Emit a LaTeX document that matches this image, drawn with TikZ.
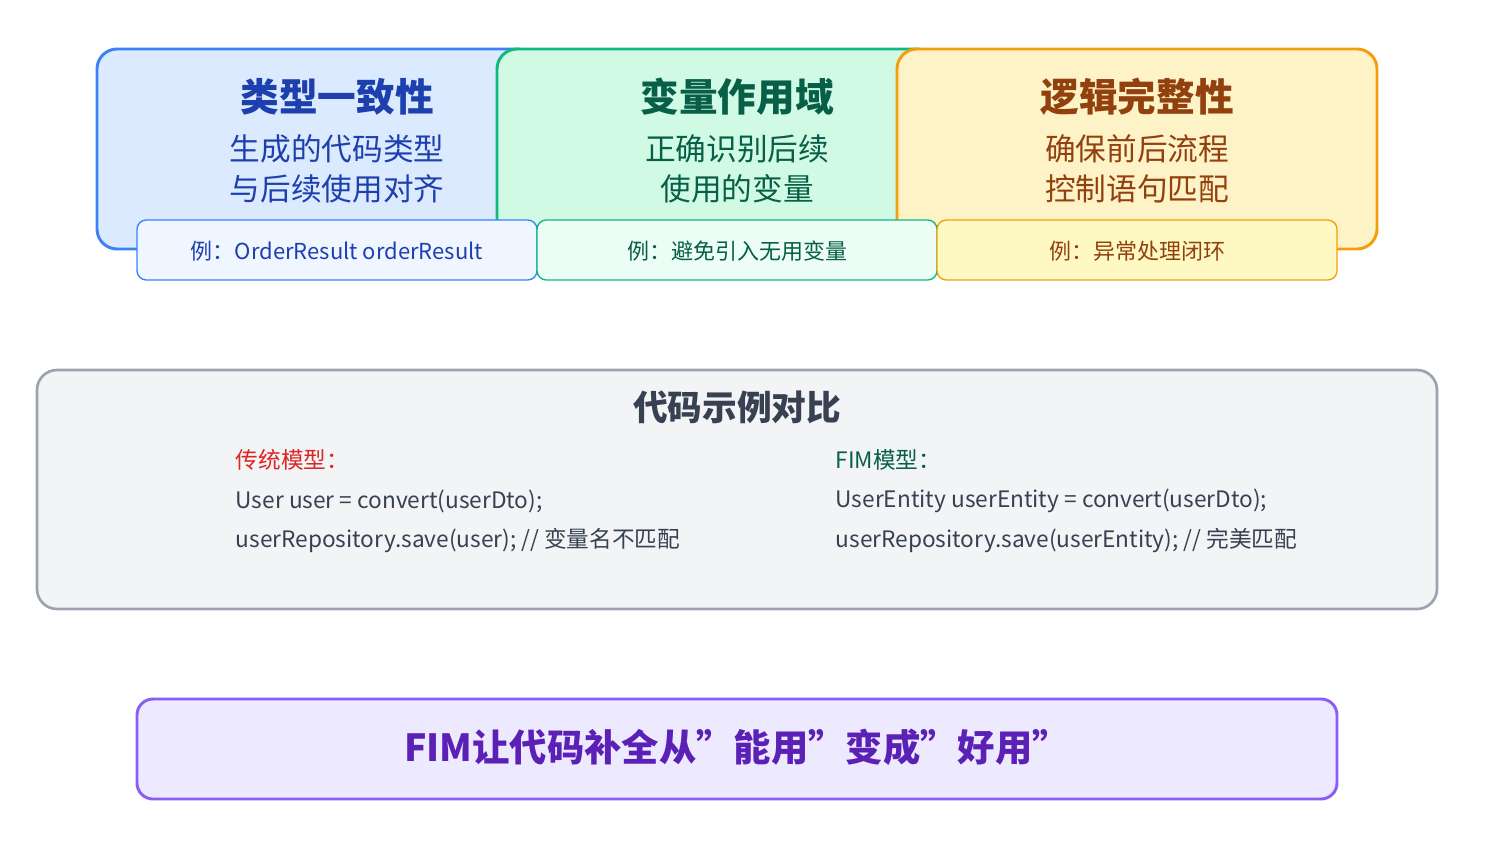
\documentclass[tikz,border=0pt]{standalone}
\usepackage{fontspec}
\setmainfont{Noto Sans CJK SC}
\begin{document}
\begin{tikzpicture}[x=0.75pt,y=-0.75pt,
 bigbox/.style={line width=2.2pt,rounded corners=15pt},
 exbox/.style={line width=1pt,rounded corners=7pt},
 ttl/.style={font=\fontsize{29}{34}\selectfont\bfseries},
 sub/.style={font=\fontsize{23}{30}\selectfont,align=center},
 ex/.style={font=\fontsize{16.5}{20}\selectfont},
 code/.style={font=\fontsize{17}{20}\selectfont,anchor=west,text=c7}]
\definecolor{b1}{HTML}{3B82F6}\definecolor{b1f}{HTML}{DBEAFE}\definecolor{b1e}{HTML}{EFF6FF}\definecolor{b1t}{HTML}{1E40AF}
\definecolor{g1}{HTML}{10B981}\definecolor{g1f}{HTML}{D1FAE5}\definecolor{g1e}{HTML}{ECFDF5}\definecolor{g1t}{HTML}{065F46}
\definecolor{y1}{HTML}{F59E0B}\definecolor{y1f}{HTML}{FEF3C7}\definecolor{y1e}{HTML}{FEF9C3}\definecolor{y1t}{HTML}{92400E}
\definecolor{c7}{HTML}{374151}\definecolor{gr}{HTML}{9CA3AF}\definecolor{grf}{HTML}{F3F4F6}
\definecolor{pu}{HTML}{8B5CF6}\definecolor{puf}{HTML}{EDE9FE}\definecolor{put}{HTML}{5B21B6}
\definecolor{rd}{HTML}{DC2626}
\useasboundingbox (0,0) rectangle (1486,852);
% box 1
\draw[bigbox,draw=b1,fill=b1f] (97,49) rectangle (537,249);
\node[ttl,text=b1t] (t1) at (337,97) {类型一致性};
\node[sub,text=b1t] (s1) at (337,169) {生成的代码类型\\与后续使用对齐};
% box 2
\draw[bigbox,draw=g1,fill=g1f] (497,49) rectangle (937,249);
\node[ttl,text=g1t] (t2) at (737,97) {变量作用域};
\node[sub,text=g1t] (s2) at (737,169) {正确识别后续\\使用的变量};
% box 3
\draw[bigbox,draw=y1,fill=y1f] (897,49) rectangle (1377,249);
\node[ttl,text=y1t] (t3) at (1137,97) {逻辑完整性};
\node[sub,text=y1t] (s3) at (1137,169) {确保前后流程\\控制语句匹配};
% example boxes
\draw[exbox,draw=b1,fill=b1e] (137,220) rectangle (537,280);
\node[ex,text=b1t] (e1) at (337,251) {例：OrderResult orderResult};
\draw[exbox,draw=g1,fill=g1e] (537,220) rectangle (937,280);
\node[ex,text=g1t] (e2) at (737,251) {例：避免引入无用变量};
\draw[exbox,draw=y1,fill=y1e] (937,220) rectangle (1337,280);
\node[ex,text=y1t] (e3) at (1137,251) {例：异常处理闭环};
% middle
\draw[line width=2pt,rounded corners=15pt,draw=gr,fill=grf] (37,370) rectangle (1437,609);
\node[font=\fontsize{26}{30}\selectfont\bfseries,text=c7] (mt) at (737,407) {代码示例对比};
\node[code,text=rd] (l0) at (231,460) {传统模型：};
\node[code] (l1) at (231,501) {User user = convert(userDto);};
\node[code] (l2) at (231,541) {userRepository.save(user); // 变量名不匹配};
\node[code,text=g1t] (r0) at (831,460) {FIM模型：};
\node[code] (r1) at (831,501) {UserEntity userEntity = convert(userDto);};
\node[code] (r2) at (831,541) {userRepository.save(userEntity); // 完美匹配};
% bottom
\draw[line width=2.2pt,rounded corners=12pt,draw=pu,fill=puf] (137,699) rectangle (1337,799);
\node[font=\fontsize{28}{32}\selectfont\bfseries,text=put] (bt) at (737,747) {FIM让代码补全从"能用"变成"好用"};
\end{tikzpicture}
\end{document}
